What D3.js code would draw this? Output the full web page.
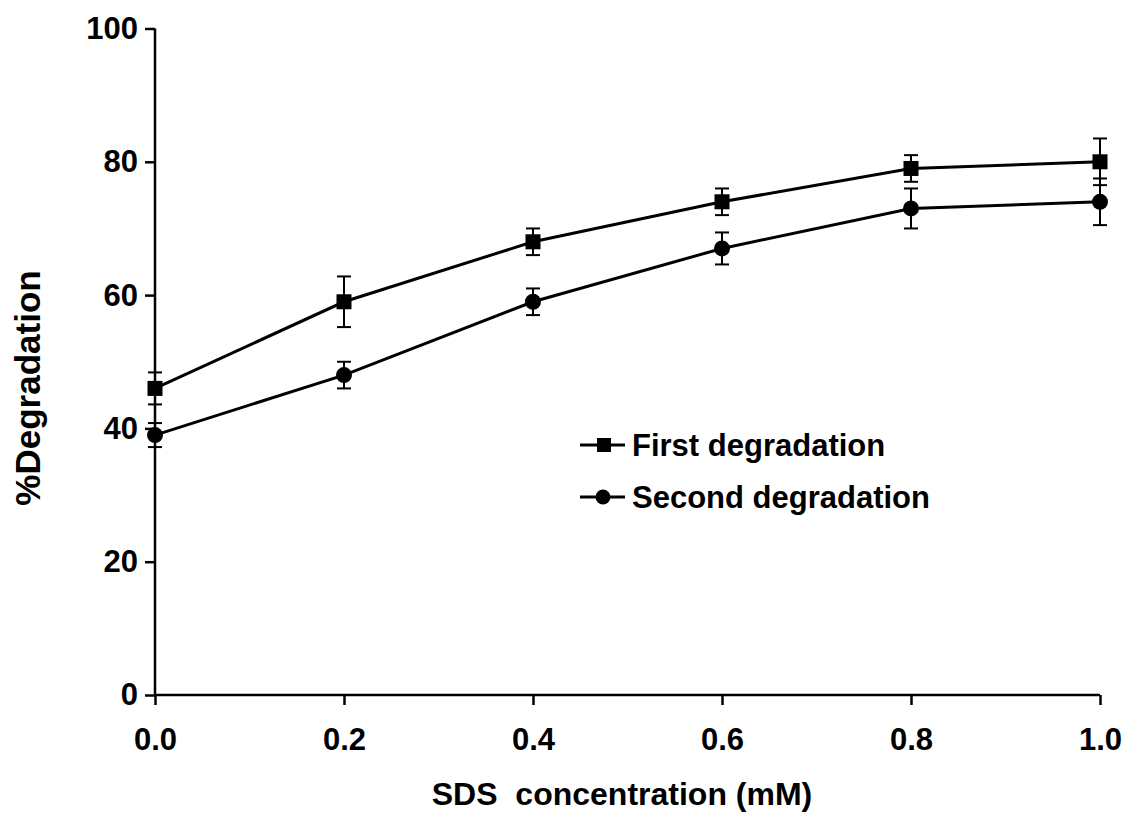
<!DOCTYPE html>
<html>
<head>
<meta charset="utf-8">
<script src="https://cdn.jsdelivr.net/npm/d3@7"></script>
<style>
  html, body { margin: 0; padding: 0; background: #fff; }
  svg { display: block; }
  text { font-family: "Liberation Sans", Arial, sans-serif; font-weight: bold; fill: #000; }
</style>
</head>
<body>
<svg id="chart" width="1125" height="814"></svg>
<script>
// SDS concentration (mM)
const concentrations = [0.0, 0.2, 0.4, 0.6, 0.8, 1.0];
// % degradation, mean and error
const firstDegradation = [46, 59, 68, 74, 79, 80];
const firstError = [2.4, 3.8, 2.0, 2.0, 2.0, 3.5];
const secondDegradation = [39, 48, 59, 67, 73, 74];
const secondError = [1.8, 2.0, 2.0, 2.4, 3.0, 3.5];
const xTicks = [0.0, 0.2, 0.4, 0.6, 0.8, 1.0];
const yTicks = [0, 20, 40, 60, 80, 100];
const seriesNames = ["First degradation", "Second degradation"];

(function () {
const svg = d3.select("#chart");
const plotLeft = 155, plotRight = 1100, plotTop = 28.5, plotBottom = 695;

const x = d3.scaleLinear().domain([0, 1]).range([plotLeft, plotRight]);
const y = d3.scaleLinear().domain([0, 100]).range([plotBottom, plotTop]);

// Axes
const yAxis = d3.axisLeft(y).tickValues(yTicks).tickSize(10).tickPadding(7).tickFormat(d3.format("d"));
const xAxis = d3.axisBottom(x).tickValues(xTicks).tickSize(10).tickPadding(23).tickFormat(d3.format(".1f"));

const gy = svg.append("g").attr("transform", `translate(${plotLeft},0)`).call(yAxis);
const gx = svg.append("g").attr("transform", `translate(0,${plotBottom})`).call(xAxis);
[gx, gy].forEach(g => {
  g.select(".domain").attr("stroke", "#000").attr("stroke-width", 2.5);
  g.selectAll(".tick line").attr("stroke", "#000").attr("stroke-width", 2.5);
  g.selectAll(".tick text").style("font-size", "31px").style("font-family", "Liberation Sans, Arial, sans-serif").style("font-weight", "bold").attr("fill", "#000");
});
gy.select(".domain").attr("d", `M0,${plotTop}V${plotBottom}`);
gx.select(".domain").attr("d", `M${plotLeft},0H${plotRight}`);

// Axis titles
svg.append("text")
  .attr("x", 622).attr("y", 805)
  .attr("text-anchor", "middle")
  .style("font-size", "32px")
  .style("white-space", "pre")
  .attr("xml:space", "preserve")
  .text("SDS  concentration (mM)");

svg.append("text")
  .attr("transform", "translate(40,388) rotate(-90)")
  .attr("text-anchor", "middle")
  .style("font-size", "35px")
  .text("%Degradation");

const series = [
  { name: seriesNames[0], values: firstDegradation, errors: firstError, shape: "square" },
  { name: seriesNames[1], values: secondDegradation, errors: secondError, shape: "circle" }
];

const line = d3.line().x(d => x(d[0])).y(d => y(d[1]));

series.forEach(s => {
  const pts = concentrations.map((c, i) => [c, s.values[i], s.errors[i]]);
  const g = svg.append("g");
  // error bars
  const eb = g.selectAll(".err").data(pts).enter().append("g");
  eb.append("line")
    .attr("x1", d => x(d[0])).attr("x2", d => x(d[0]))
    .attr("y1", d => y(d[1] + d[2])).attr("y2", d => y(d[1] - d[2]))
    .attr("stroke", "#000").attr("stroke-width", 2);
  [1, -1].forEach(sign => {
    eb.append("line")
      .attr("x1", d => x(d[0]) - 7).attr("x2", d => x(d[0]) + 7)
      .attr("y1", d => y(d[1] + sign * d[2])).attr("y2", d => y(d[1] + sign * d[2]))
      .attr("stroke", "#000").attr("stroke-width", 2);
  });
  // connecting line
  g.append("path").datum(pts).attr("d", line)
    .attr("fill", "none").attr("stroke", "#000").attr("stroke-width", 3);
  // markers
  if (s.shape === "square") {
    g.selectAll(".m").data(pts).enter().append("rect")
      .attr("x", d => x(d[0]) - 7.5).attr("y", d => y(d[1]) - 7.5)
      .attr("width", 15).attr("height", 15).attr("fill", "#000");
  } else {
    g.selectAll(".m").data(pts).enter().append("circle")
      .attr("cx", d => x(d[0])).attr("cy", d => y(d[1]))
      .attr("r", 8).attr("fill", "#000");
  }
});

// Legend
const legend = svg.append("g");
series.forEach((s, i) => {
  const ly = 445 + i * 52;
  legend.append("line").attr("x1", 580).attr("x2", 625).attr("y1", ly).attr("y2", ly)
    .attr("stroke", "#000").attr("stroke-width", 3);
  if (s.shape === "square") {
    legend.append("rect").attr("x", 597).attr("y", ly - 7).attr("width", 14).attr("height", 14).attr("fill", "#000");
  } else {
    legend.append("circle").attr("cx", 603).attr("cy", ly).attr("r", 7.5).attr("fill", "#000");
  }
  legend.append("text").attr("x", 632).attr("y", ly + 11)
    .style("font-size", "31px").text(s.name);
});
})();
</script>
</body>
</html>
